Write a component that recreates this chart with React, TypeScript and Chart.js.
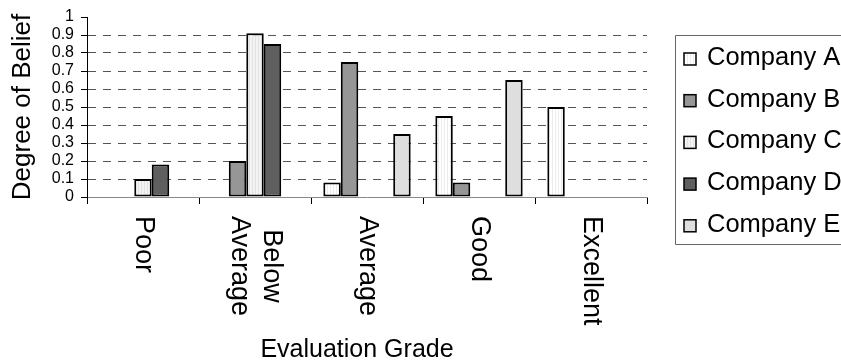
import React, { useEffect, useRef } from 'react';
import { Chart, registerables } from 'chart.js';

Chart.register(...registerables);

// ---- data ----
const categories: string[][] = [['Poor'], ['Below', 'Average'], ['Average'], ['Good'], ['Excellent']];
const seriesNames = ['Company A', 'Company B', 'Company C', 'Company D', 'Company E'];
const companyA = [null, null, 0.08, 0.45, 0.5];
const companyB = [null, 0.2, 0.75, 0.08, null];
const companyC = [0.1, 0.91, null, null, null];
const companyD = [0.18, 0.85, null, null, null];
const companyE = [null, null, 0.35, 0.65, null];
const yAxisTitle = 'Degree of Belief';
const xAxisTitle = 'Evaluation Grade';

const FONT = '"Liberation Sans", Arial, Helvetica, sans-serif';

function stripes(base: string, line: string): CanvasPattern | string {
  const c = document.createElement('canvas');
  c.width = 3;
  c.height = 1;
  const g = c.getContext('2d');
  if (!g) return base;
  g.fillStyle = base;
  g.fillRect(0, 0, 3, 1);
  g.fillStyle = line;
  g.fillRect(0, 0, 1, 1);
  return g.createPattern(c, 'repeat') || base;
}

export default function App() {
  const ref = useRef<HTMLCanvasElement | null>(null);

  useEffect(() => {
    if (!ref.current) return;
    const fills = [
      stripes('#ffffff', '#ececec'),
      '#969696',
      stripes('#f3f3f3', '#e2e2e2'),
      '#5f5f5f',
      '#dedede',
    ];
    const series = [companyA, companyB, companyC, companyD, companyE];

    const overlay = {
      id: 'overlay',
      afterDraw(chart: any) {
        const { ctx } = chart;
        const xs = chart.scales.x;
        ctx.save();
        // category labels, rotated clockwise
        ctx.font = `27px ${FONT}`;
        ctx.fillStyle = '#000';
        ctx.textBaseline = 'middle';
        ctx.textAlign = 'left';
        const labelTop = 216;
        const lineGap = 32;
        categories.forEach((lines, i) => {
          const cx = xs.getPixelForValue(i);
          const widths = lines.map((l) => ctx.measureText(l).width);
          const maxW = Math.max(...widths);
          const n = lines.length;
          lines.forEach((line, j) => {
            const x = cx + ((n - 1) / 2 - j) * lineGap;
            const y = labelTop + (maxW - widths[j]) / 2;
            ctx.save();
            ctx.translate(x, y);
            ctx.rotate(Math.PI / 2);
            ctx.fillText(line, 0, 0);
            ctx.restore();
          });
        });
        // x axis title
        ctx.font = `25px ${FONT}`;
        ctx.textAlign = 'center';
        ctx.textBaseline = 'alphabetic';
        ctx.fillText(xAxisTitle, 357, 357);

        // legend (runs past the right edge, as in the reference)
        ctx.strokeStyle = '#666';
        ctx.lineWidth = 1;
        ctx.beginPath();
        ctx.moveTo(900, 35.5);
        ctx.lineTo(675.5, 35.5);
        ctx.lineTo(675.5, 244.5);
        ctx.lineTo(900, 244.5);
        ctx.stroke();
        ctx.font = `25.5px ${FONT}`;
        ctx.textAlign = 'left';
        seriesNames.forEach((name, i) => {
          const base = 65 + i * 41.7;
          ctx.fillStyle = fills[i] as any;
          ctx.fillRect(684, base - 12, 12, 12);
          ctx.strokeStyle = '#000';
          ctx.lineWidth = 1.5;
          ctx.strokeRect(684, base - 12, 12, 12);
          ctx.fillStyle = '#000';
          ctx.fillText(name, 707, base);
        });
        ctx.restore();
      },
    };

    const chart = new Chart(ref.current, {
      type: 'bar',
      data: {
        labels: categories.map((c) => c.join(' ')),
        datasets: series.map((data, i) => ({
          label: seriesNames[i],
          data: data as any,
          backgroundColor: fills[i] as any,
          borderColor: '#000',
          borderWidth: 2,
          borderSkipped: false,
          categoryPercentage: 0.78,
          barPercentage: 1,
        })),
      },
      options: {
        responsive: true,
        maintainAspectRatio: false,
        animation: false,
        layout: { padding: { left: 0, top: 17, right: 194, bottom: 0 } },
        plugins: {
          legend: { display: false },
          tooltip: { enabled: false },
        },
        scales: {
          x: {
            grid: {
              display: true,
              drawOnChartArea: false,
              drawTicks: true,
              tickLength: 7,
              color: '#000',
              offset: true,
            },
            border: { display: true, color: '#888', width: 1 },
            ticks: { display: false },
            afterFit: (s: any) => {
              s.height = 164;
            },
          },
          y: {
            min: 0,
            max: 1,
            ticks: {
              stepSize: 0.1,
              autoSkip: false,
              color: '#000',
              padding: 7,
              font: { family: FONT, size: 16, lineHeight: 1 },
              callback: (v: any) => String(Math.round(Number(v) * 10) / 10),
            },
            grid: {
              color: (c: any) =>
                c.tick && c.tick.value > 0.001 && c.tick.value < 0.999 ? '#555' : 'rgba(0,0,0,0)',
              tickColor: '#000',
              tickLength: 6,
              tickBorderDash: [],
              lineWidth: 1,
            } as any,
            border: { display: true, color: '#000', width: 1, dash: [8, 7] },
            title: {
              display: true,
              text: yAxisTitle,
              color: '#000',
              font: { family: FONT, size: 26, lineHeight: 1 },
              padding: { top: 10, bottom: 0 },
            },
            afterFit: (s: any) => {
              s.width = 87;
            },
          },
        },
      },
      plugins: [overlay],
    });
    return () => chart.destroy();
  }, []);

  return (
    <div style={{ position: 'fixed', left: 0, top: 0, width: 841, height: 361, background: '#fff' }}>
      <canvas ref={ref} />
    </div>
  );
}
